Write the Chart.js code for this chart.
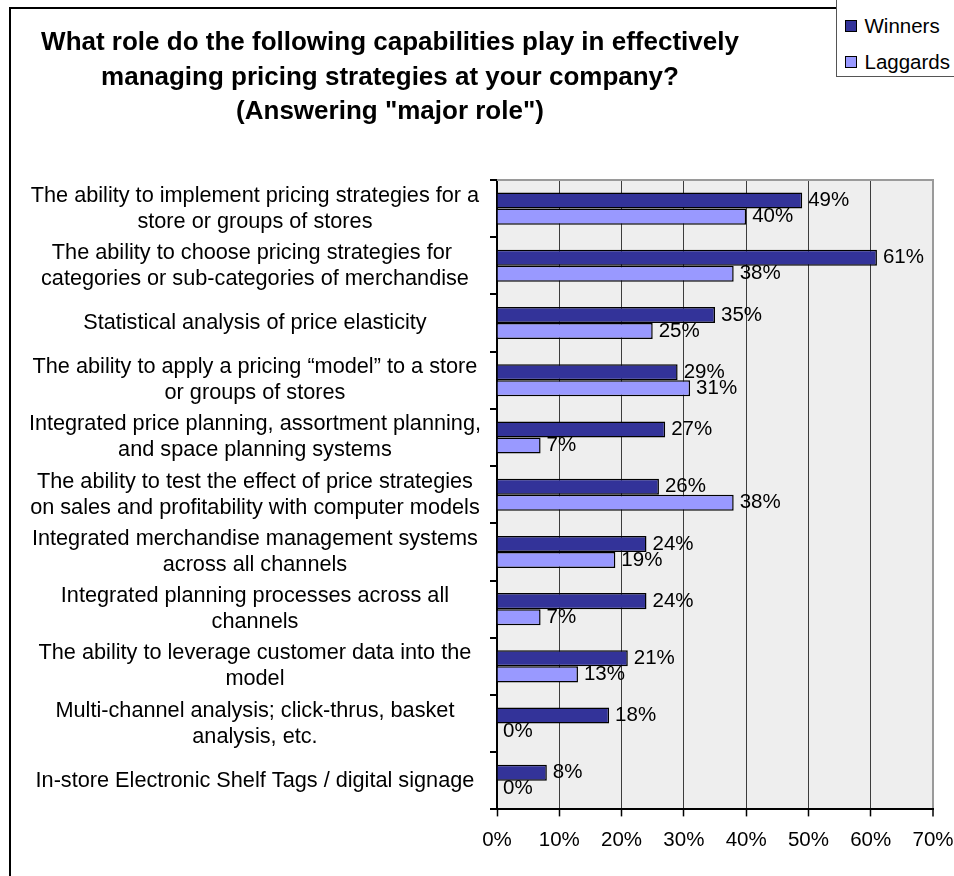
<!DOCTYPE html>
<html>
<head>
<meta charset="utf-8">
<script src="https://cdn.jsdelivr.net/npm/chart.js@4.4.1/dist/chart.umd.min.js"></script>
<style>
  html, body { margin: 0; padding: 0; background: #fff; overflow: hidden; }
  #wrap { position: relative; width: 954px; height: 876px; overflow: hidden;
          font-family: "Liberation Sans", Arial, sans-serif; color: #000; }
  #frame { position: absolute; left: 9px; top: 7px; width: 1000px; height: 900px;
           border-left: 2px solid #000; border-top: 2px solid #000; }
  #chart { position: absolute; left: 0; top: 0; }
  #title { position: absolute; left: 0; top: 24px; width: 780px; text-align: center;
           font-weight: bold; font-size: 26px; line-height: 34.5px; }
  #legend { position: absolute; left: 836px; top: -2px; width: 140px; height: 79px;
            box-sizing: border-box; border: 1.5px solid #555; background: #fff; }
  #legend .item { position: absolute; left: 7.5px; height: 24px; display: flex;
                  align-items: center; font-size: 20.5px; white-space: nowrap; }
  #legend .swatch { width: 10px; height: 10px; border: 1px solid #000; margin-right: 8px; }
</style>
</head>
<body>
<div id="wrap">
  <div id="frame"></div>
  <canvas id="chart" width="954" height="876"></canvas>
  <div id="title">What role do the following capabilities play in effectively<br>managing pricing strategies at your company?<br>(Answering "major role")</div>
  <div id="legend"></div>
</div>
<script>
// Capabilities asked about (multi-line entries are wrapped axis labels)
const categories = [
  ["The ability to implement pricing strategies for a", "store or groups of stores"],
  ["The ability to choose pricing strategies for ", "categories or sub-categories of merchandise"],
  "Statistical analysis of price elasticity",
  ["The ability to apply a pricing \u201cmodel\u201d to a store", "or groups of stores"],
  ["Integrated price planning, assortment planning,", "and space planning systems"],
  ["The ability to test the effect of price strategies", "on sales and profitability with computer models"],
  ["Integrated merchandise management systems", "across all channels"],
  ["Integrated planning processes across all", "channels"],
  ["The ability to leverage customer data into the", "model"],
  ["Multi-channel analysis; click-thrus, basket", "analysis, etc."],
  "In-store Electronic Shelf Tags / digital signage"
];

// Share answering "major role", in percent
const winners  = [49, 61, 35, 29, 27, 26, 24, 24, 21, 18, 8];
const laggards = [40, 38, 25, 31, 7, 38, 19, 7, 13, 0, 0];

const seriesNames = ["Winners", "Laggards"];
const seriesColors = ["#333399", "#9999FF"];

// Value axis range and tick step (percent)
const axisMin = 0;
const axisMax = 70;
const axisStep = 10;

const FONT = '"Liberation Sans", Arial, sans-serif';

// Light grey plot background plus grey top edge
const plotFrame = {
  id: 'plotFrame',
  beforeDraw(chart) {
    const { ctx, chartArea: a } = chart;
    ctx.save();
    ctx.fillStyle = '#EEEEEE';
    ctx.fillRect(a.left, a.top, a.right - a.left, a.bottom - a.top);
    ctx.restore();
  },
  afterDraw(chart) {
    const { ctx, chartArea: a } = chart;
    ctx.save();
    ctx.strokeStyle = '#9a9a9a';
    ctx.lineWidth = 2;
    ctx.beginPath();
    ctx.moveTo(a.left, a.top);
    ctx.lineTo(a.right + 1, a.top);
    ctx.stroke();
    ctx.restore();
  }
};

// Percentage label just past the end of every bar
const barValueLabels = {
  id: 'barValueLabels',
  afterDatasetsDraw(chart) {
    const ctx = chart.ctx;
    ctx.save();
    ctx.font = '20.5px ' + FONT;
    ctx.fillStyle = '#000';
    ctx.textAlign = 'left';
    ctx.textBaseline = 'middle';
    chart.data.datasets.forEach((ds, i) => {
      chart.getDatasetMeta(i).data.forEach((bar, j) => {
        ctx.fillText(ds.data[j] + '%', bar.x + 6, bar.y);
      });
    });
    ctx.restore();
  }
};

const chart = new Chart(document.getElementById('chart'), {
  type: 'bar',
  data: {
    labels: categories,
    datasets: [
      { label: seriesNames[0], data: winners, backgroundColor: seriesColors[0] },
      { label: seriesNames[1], data: laggards, backgroundColor: seriesColors[1] }
    ]
  },
  options: {
    indexAxis: 'y',
    responsive: false,
    devicePixelRatio: 1,
    animation: false,
    layout: { padding: { top: 180, right: 21, bottom: 11, left: 22 } },
    datasets: {
      bar: {
        borderColor: '#000',
        borderWidth: 1.5,
        categoryPercentage: 0.56,
        barPercentage: 1.0
      }
    },
    plugins: {
      legend: { display: false },
      title: { display: false },
      tooltip: { enabled: false }
    },
    scales: {
      x: {
        min: axisMin,
        max: axisMax,
        // only half of the last tick label needs room at the right edge
        afterFit: scale => { scale.paddingRight = 21; },
        ticks: {
          stepSize: axisStep,
          color: '#000',
          padding: 12,
          font: { family: FONT, size: 20.5 },
          callback: v => v + '%'
        },
        grid: {
          color: c => (c.tick && c.tick.value === axisMax) ? '#9a9a9a' : '#3c3c3c',
          lineWidth: c => (c.tick && c.tick.value === axisMax) ? 2 : 1,
          tickColor: '#000',
          tickWidth: 1.5,
          tickLength: 7
        },
        border: { color: '#000', width: 2 }
      },
      y: {
        // keep the full label column (the default caps it at half the width)
        afterFit: scale => { scale.width = 475; },
        ticks: {
          color: '#000',
          crossAlign: 'center',
          padding: 9,
          autoSkip: false,
          font: { family: FONT, size: 21.7, lineHeight: 1.2 }
        },
        grid: {
          drawOnChartArea: false,
          color: '#000',
          lineWidth: 2,
          tickLength: 7
        },
        border: { color: '#000', width: 2 }
      }
    }
  },
  plugins: [plotFrame, barValueLabels]
});

// HTML legend built from the chart's datasets
const legendEl = document.getElementById('legend');
chart.data.datasets.forEach((ds, i) => {
  const item = document.createElement('div');
  item.className = 'item';
  item.style.top = (i === 0 ? 14.5 : 51) + 'px';
  const sw = document.createElement('span');
  sw.className = 'swatch';
  sw.style.background = ds.backgroundColor;
  const txt = document.createElement('span');
  txt.textContent = ds.label;
  item.appendChild(sw);
  item.appendChild(txt);
  legendEl.appendChild(item);
});
</script>
</body>
</html>
